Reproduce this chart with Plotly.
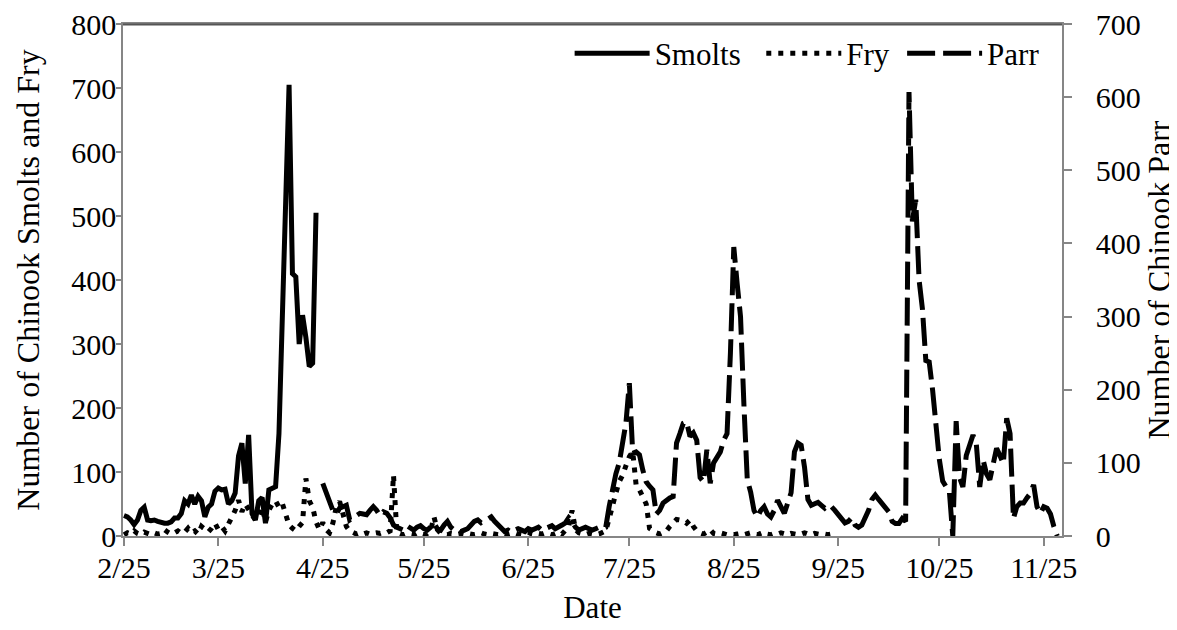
import pandas as pd
import plotly.graph_objects as go

# ---------------- data (daily counts, starting 2/25) ----------------
start_date = "2011-02-25"
n_days = 278

smolts_offset = 0
smolts = [32, 30, 25, 18, 25, 40, 45, 25, 24, 25,
          23, 21, 20, 20, 22, 28, 28, 35, 55, 50,
          64, 50, 62, 55, 30, 45, 50, 70, 75, 72,
          73, 50, 55, 67, 125, 145, 82, 158, 35, 25,
          55, 60, 20, 72, 75, 77, 160, 350, 540, 705,
          410, 405, 300, 345, 310, 265, 270, 505]

fry_offset = 0
fry = [2, 5, 3, 8, 4, 2, 6, 3, 2, 5,
       3, 4, 10, 6, 3, 5, 8, 4, 6, 12,
       5, 8, 3, 15, 10, 6, 12, 20, 10, 15,
       8, 18, 31, 40, 56, 38, 50, 40, 33, 25,
       30, 45, 22, 40, 50, 55, 45, 51, 34, 17,
       12, 8, 15, 21, 90, 55, 45, 22, 10, 21,
       10, 5, 20, 45, 54, 30, 15, 8, 5, 3,
       5, 3, 5, 3, 4, 5, 4, 6, 5, 8,
       95, 5, 3, 2, 4, 3, 2, 5, 3, 2,
       4, 8, 30, 10, 4, 3, 2, 4, 3, 2,
       3, 2, 4, 3, 2, 3, 5, 3, 2, 4,
       3, 2, 3, 4, 2, 3, 5, 3, 2, 4,
       6, 3, 2, 4, 3, 5, 3, 2, 4, 6,
       3, 8, 15, 40, 10, 5, 3, 2, 4, 3,
       2, 3, 5, 8, 27, 51, 67, 85, 95, 110,
       124, 132, 80, 72, 62, 50, 12, 8, 5, 3,
       5, 8, 15, 22, 26, 25, 24, 20, 25, 15,
       8, 5, 3, 6, 10, 4, 3, 5, 3, 2,
       3, 2, 3, 4, 2, 3, 5, 3, 2, 4,
       6, 3, 2, 4, 3, 5, 3, 2, 4, 3,
       2, 3, 5, 3, 2, 4, 3, 2, 3, 2, 3]

parr_offset = 59
parr = [72, 60, 48, 35, 30, 38, 40, 42, 22, 25,
        28, 31, 30, 29, 35, 40, 35, 28, 33, 31,
        25, 15, 12, 10, 8, 14, 10, 8, 12, 14,
        10, 8, 12, 18, 10, 8, 15, 20, 12, 8,
        10, 6, 8, 10, 15, 20, 22, 18, 20, 24,
        26, 20, 15, 10, 6, 8, 5, 8, 10, 8,
        6, 10, 8, 10, 12, 8, 10, 12, 14, 10,
        12, 15, 18, 25, 20, 12, 8, 10, 12, 10,
        8, 10, 12, 10, 12, 40, 65, 85, 100, 130,
        155, 209, 113, 115, 111, 90, 74, 68, 63, 30,
        35, 45, 49, 52, 54, 127, 140, 154, 156, 136,
        141, 131, 80, 74, 118, 72, 100, 108, 115, 131,
        140, 250, 395, 345, 300, 180, 77, 60, 35, 26,
        35, 40, 30, 26, 35, 49, 40, 31, 45, 59,
        115, 127, 124, 94, 50, 42, 44, 46, 42, 38,
        42, 40, 35, 29, 22, 18, 20, 25, 15, 12,
        15, 24, 35, 50, 56, 50, 45, 38, 33, 20,
        17, 17, 24, 20, 607, 430, 460, 350, 310, 240,
        238, 200, 146, 105, 75, 68, 60, 0, 157, 80,
        67, 110, 122, 138, 125, 67, 104, 85, 77, 99,
        120, 110, 99, 161, 140, 24, 40, 45, 45, 52,
        58, 70, 40, 31, 40, 38, 30, 13, 0]

tick_dates = ["2011-02-25", "2011-03-25", "2011-04-25", "2011-05-25", "2011-06-25",
              "2011-07-25", "2011-08-25", "2011-09-25", "2011-10-25", "2011-11-25"]
tick_labels = ["2/25", "3/25", "4/25", "5/25", "6/25",
               "7/25", "8/25", "9/25", "10/25", "11/25"]

left_ticks = [0, 100, 200, 300, 400, 500, 600, 700, 800]
right_ticks = [0, 100, 200, 300, 400, 500, 600, 700]

# ---------------- figure ----------------
dates = pd.date_range(start_date, periods=n_days, freq="D")

def xs(offset, vals):
    return dates[offset:offset + len(vals)]

FONT = "Liberation Serif, Times New Roman, serif"
AXIS_COLOR = "#868686"
NB = "\u00a0"

fig = go.Figure()
fig.add_trace(go.Scatter(x=xs(smolts_offset, smolts), y=smolts, name="Smolts" + NB * 2,
                         mode="lines", line=dict(color="black", width=5),
                         yaxis="y"))
fig.add_trace(go.Scatter(x=xs(fry_offset, fry), y=fry, name="Fry" + NB,
                         mode="lines", line=dict(color="black", width=5, dash="5px,7px"),
                         yaxis="y"))
fig.add_trace(go.Scatter(x=xs(parr_offset, parr), y=parr, name="Parr",
                         mode="lines", line=dict(color="black", width=5, dash="28px,8px"),
                         yaxis="y2"))

# page body has an 8px margin: figure is 8px smaller so the plot lands where the reference has it
fig.update_layout(
    width=1169, height=622,
    margin=dict(l=115, r=115, t=16, b=94, autoexpand=False),
    paper_bgcolor="white", plot_bgcolor="white",
    font=dict(family=FONT, size=30, color="black"),
    showlegend=True,
    legend=dict(orientation="h", x=0.9815, xanchor="right", y=0.995, yanchor="top",
                bgcolor="rgba(0,0,0,0)", font=dict(size=31), itemwidth=75,
                tracegroupgap=0),
    xaxis=dict(
        range=["2011-02-24 17:00", "2011-11-30 10:00"],
        tickvals=tick_dates, ticktext=tick_labels,
        showgrid=False, zeroline=False, automargin=False,
        showline=True, linecolor=AXIS_COLOR, linewidth=1.5, mirror=True,
        ticks="outside", ticklen=8, tickcolor=AXIS_COLOR, tickwidth=1.5,
        ticklabelstandoff=-4, ticklabeloverflow="allow",
        title=dict(text="Date", font=dict(size=31), standoff=14),
    ),
    yaxis=dict(
        range=[0, 800], tickvals=left_ticks,
        showgrid=False, zeroline=False, automargin=False,
        showline=True, linecolor=AXIS_COLOR, linewidth=1.5,
        ticks="outside", ticklen=5, tickcolor=AXIS_COLOR, tickwidth=1.5,
        ticklabelstandoff=-6, ticklabeloverflow="allow",
        title=dict(text="Number of Chinook Smolts and Fry", font=dict(size=32), standoff=22),
    ),
    yaxis2=dict(
        range=[0, 700], tickvals=right_ticks,
        overlaying="y", side="right",
        showgrid=False, zeroline=False, automargin=False,
        showline=True, linecolor=AXIS_COLOR, linewidth=1.5,
        ticks="outside", ticklen=8, tickcolor=AXIS_COLOR, tickwidth=1.5,
        ticklabelstandoff=18, ticklabeloverflow="allow",
        title=dict(text="Number of Chinook Parr", font=dict(size=32), standoff=14),
    ),
    shapes=[dict(type="line", xref="paper", yref="paper", x0=0, x1=1, y0=0.999, y1=0.999,
                 line=dict(color="#555555", width=2), layer="above")],
)

fig.write_html("out.html")
